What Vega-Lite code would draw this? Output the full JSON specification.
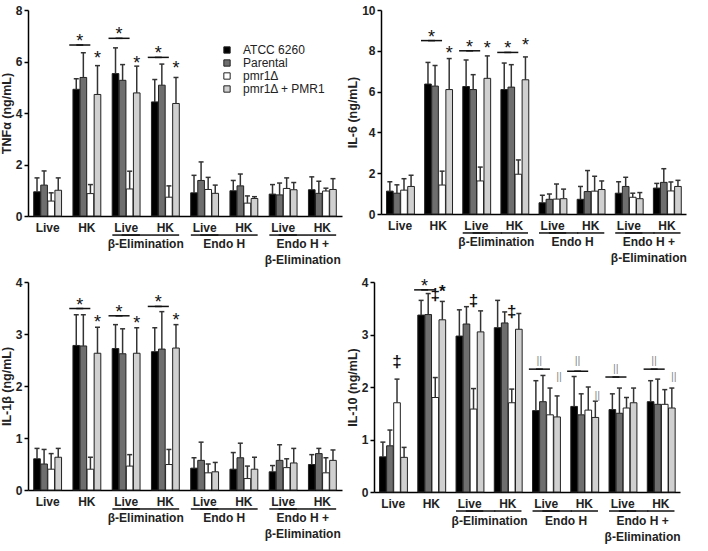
{
  "$schema": "https://vega.github.io/schema/vega-lite/v6.json",
  "padding": {"left": 0, "top": 4, "right": 2, "bottom": 2},
  "config": {
    "view": {"stroke": null},
    "font": "Liberation Sans",
    "axis": {"domainColor": "#000", "tickColor": "#000", "labelFontWeight": "bold", "labelFontSize": 12, "labelColor": "#222", "titleFontWeight": "bold", "titleFontSize": 12.5, "titleColor": "#222", "grid": false, "domainWidth": 1.5, "tickWidth": 1.5, "tickSize": 4}
  },
  "spacing": 9,
  "vconcat": [
    {"spacing": 4, "hconcat": [
      {"width": 314, "height": 206,
       "data": {"values": [
        {"k":"b","cond":"Live","strain":"ATCC 6260","mean":0.94,"top":1.48},
        {"k":"b","cond":"Live","strain":"Parental","mean":1.2,"top":1.75},
        {"k":"b","cond":"Live","strain":"pmr1Δ","mean":0.58,"top":0.9},
        {"k":"b","cond":"Live","strain":"pmr1Δ + PMR1","mean":1.0,"top":1.48},
        {"k":"b","cond":"HK","strain":"ATCC 6260","mean":4.92,"top":5.33},
        {"k":"b","cond":"HK","strain":"Parental","mean":5.38,"top":6.34},
        {"k":"b","cond":"HK","strain":"pmr1Δ","mean":0.87,"top":1.22},
        {"k":"b","cond":"HK","strain":"pmr1Δ + PMR1","mean":4.72,"top":5.84},
        {"k":"b","cond":"Live\u200b","strain":"ATCC 6260","mean":5.53,"top":6.53},
        {"k":"b","cond":"Live\u200b","strain":"Parental","mean":5.27,"top":5.88},
        {"k":"b","cond":"Live\u200b","strain":"pmr1Δ","mean":1.05,"top":1.74},
        {"k":"b","cond":"Live\u200b","strain":"pmr1Δ + PMR1","mean":4.78,"top":5.82},
        {"k":"b","cond":"HK\u200b","strain":"ATCC 6260","mean":4.43,"top":5.3},
        {"k":"b","cond":"HK\u200b","strain":"Parental","mean":5.08,"top":5.9},
        {"k":"b","cond":"HK\u200b","strain":"pmr1Δ","mean":0.73,"top":1.17},
        {"k":"b","cond":"HK\u200b","strain":"pmr1Δ + PMR1","mean":4.37,"top":5.38},
        {"k":"b","cond":"Live\u200b\u200b","strain":"ATCC 6260","mean":0.9,"top":1.58},
        {"k":"b","cond":"Live\u200b\u200b","strain":"Parental","mean":1.38,"top":2.1},
        {"k":"b","cond":"Live\u200b\u200b","strain":"pmr1Δ","mean":1.03,"top":1.5},
        {"k":"b","cond":"Live\u200b\u200b","strain":"pmr1Δ + PMR1","mean":0.88,"top":1.2},
        {"k":"b","cond":"HK\u200b\u200b","strain":"ATCC 6260","mean":0.98,"top":1.38},
        {"k":"b","cond":"HK\u200b\u200b","strain":"Parental","mean":1.17,"top":1.63},
        {"k":"b","cond":"HK\u200b\u200b","strain":"pmr1Δ","mean":0.5,"top":0.78},
        {"k":"b","cond":"HK\u200b\u200b","strain":"pmr1Δ + PMR1","mean":0.68,"top":0.75},
        {"k":"b","cond":"Live\u200b\u200b\u200b","strain":"ATCC 6260","mean":0.85,"top":1.22},
        {"k":"b","cond":"Live\u200b\u200b\u200b","strain":"Parental","mean":0.82,"top":1.28},
        {"k":"b","cond":"Live\u200b\u200b\u200b","strain":"pmr1Δ","mean":1.07,"top":1.48},
        {"k":"b","cond":"Live\u200b\u200b\u200b","strain":"pmr1Δ + PMR1","mean":1.02,"top":1.3},
        {"k":"b","cond":"HK\u200b\u200b\u200b","strain":"ATCC 6260","mean":1.02,"top":1.52},
        {"k":"b","cond":"HK\u200b\u200b\u200b","strain":"Parental","mean":0.88,"top":1.35},
        {"k":"b","cond":"HK\u200b\u200b\u200b","strain":"pmr1Δ","mean":0.97,"top":1.08},
        {"k":"b","cond":"HK\u200b\u200b\u200b","strain":"pmr1Δ + PMR1","mean":1.03,"top":1.45},
        {"k":"l","cond":"HK","strain":"ATCC 6260","y":6.64},{"k":"l","cond":"HK","strain":"Parental","y":6.64},
        {"k":"l","cond":"Live\u200b","strain":"ATCC 6260","y":6.9},{"k":"l","cond":"Live\u200b","strain":"Parental","y":6.9},
        {"k":"l","cond":"HK\u200b","strain":"ATCC 6260","y":6.16},{"k":"l","cond":"HK\u200b","strain":"Parental","y":6.16},
        {"k":"p","cond":"HK","strain":"ATCC 6260","y":6.64,"sym":"*"},{"k":"p","cond":"Live\u200b","strain":"ATCC 6260","y":6.9,"sym":"*"},{"k":"p","cond":"HK\u200b","strain":"ATCC 6260","y":6.16,"sym":"*"},
        {"k":"s","cond":"HK","strain":"pmr1Δ + PMR1","y":6.02,"sym":"*"},
        {"k":"s","cond":"Live\u200b","strain":"pmr1Δ + PMR1","y":5.84,"sym":"*"},
        {"k":"s","cond":"HK\u200b","strain":"pmr1Δ + PMR1","y":5.64,"sym":"*"},
        {"k":"u","cond":"Live\u200b","y":-0.74},{"k":"u","cond":"HK\u200b","y":-0.74},
        {"k":"u","cond":"Live\u200b\u200b","y":-0.74},{"k":"u","cond":"HK\u200b\u200b","y":-0.74},
        {"k":"u","cond":"Live\u200b\u200b\u200b","y":-0.74},{"k":"u","cond":"HK\u200b\u200b\u200b","y":-0.74},
        {"k":"v","cond":"Live\u200b","strain":"pmr1Δ + PMR1","y":-0.74},{"k":"v","cond":"Live\u200b\u200b","strain":"pmr1Δ + PMR1","y":-0.74},{"k":"v","cond":"Live\u200b\u200b\u200b","strain":"pmr1Δ + PMR1","y":-0.74},
        {"k":"g","cond":"Live\u200b","strain":"pmr1Δ + PMR1","y":-0.91,"label":"β-Elimination"},
        {"k":"g","cond":"Live\u200b\u200b","strain":"pmr1Δ + PMR1","y":-0.91,"label":"Endo H"},
        {"k":"g","cond":"Live\u200b\u200b\u200b","strain":"pmr1Δ + PMR1","y":-0.91,"label":"Endo H +"},
        {"k":"g","cond":"Live\u200b\u200b\u200b","strain":"pmr1Δ + PMR1","y":-1.53,"label":"β-Elimination"}
       ]},
       "layer": [
        {"transform": [{"filter": "datum.k === 'b'"}],
         "mark": {"type": "bar", "stroke": "#222", "strokeWidth": 1},
         "encoding": {
           "x": {"field": "cond", "type": "nominal", "scale": {"domain": ["Live","HK","Live\u200b","HK\u200b","Live\u200b\u200b","HK\u200b\u200b","Live\u200b\u200b\u200b","HK\u200b\u200b\u200b"], "paddingInner": 0.29, "paddingOuter": 0.145}, "axis": {"title": null, "labelAngle": 0, "ticks": false, "labelPadding": 6}},
           "xOffset": {"field": "strain", "type": "nominal", "scale": {"domain": ["ATCC 6260","Parental","pmr1Δ","pmr1Δ + PMR1"], "paddingInner": 0.06}},
           "y": {"field": "mean", "type": "quantitative", "scale": {"domain": [0, 8], "nice": false}, "axis": {"title": "TNFα (ng/mL)", "values": [0,2,4,6,8], "format": "d", "labelPadding": 2, "titlePadding": 2}},
           "color": {"field": "strain", "type": "nominal", "scale": {"domain": ["ATCC 6260","Parental","pmr1Δ","pmr1Δ + PMR1"], "range": ["#000000","#6e6e6e","#ffffff","#d0d0d0"]},
             "legend": {"title": null, "orient": "none", "legendX": 193, "legendY": 34, "symbolType": "square", "symbolSize": 40, "symbolStrokeColor": "#222", "symbolStrokeWidth": 1, "labelFontSize": 12, "labelColor": "#222", "labelOffset": 10, "rowPadding": 1, "labelLimit": 200}}
         }},
        {"transform": [{"filter": "datum.k === 'b'"}],
         "mark": {"type": "rule", "color": "#333", "strokeWidth": 1.5},
         "encoding": {"x": {"field": "cond", "type": "nominal"}, "xOffset": {"field": "strain", "type": "nominal"}, "y": {"field": "mean", "type": "quantitative"}, "y2": {"field": "top"}}},
        {"transform": [{"filter": "datum.k === 'b'"}],
         "mark": {"type": "point", "shape": "stroke", "size": 25, "filled": false, "color": "#333", "strokeWidth": 1.5, "opacity": 1},
         "encoding": {"x": {"field": "cond", "type": "nominal"}, "xOffset": {"field": "strain", "type": "nominal"}, "y": {"field": "top", "type": "quantitative"}}},
        {"transform": [{"filter": "datum.k === 'l'"}],
         "mark": {"type": "point", "shape": "stroke", "size": 196, "filled": false, "color": "#111", "strokeWidth": 1.5, "opacity": 1},
         "encoding": {"x": {"field": "cond", "type": "nominal"}, "xOffset": {"field": "strain", "type": "nominal"}, "y": {"field": "y", "type": "quantitative"}}},
        {"transform": [{"filter": "datum.k === 'p'"}],
         "mark": {"type": "text", "fontSize": 18, "baseline": "alphabetic", "dy": 2, "dx": 3.5, "fill": "#111"},
         "encoding": {"x": {"field": "cond", "type": "nominal"}, "xOffset": {"field": "strain", "type": "nominal"}, "y": {"field": "y", "type": "quantitative"}, "text": {"field": "sym"}}},
        {"transform": [{"filter": "datum.k === 's'"}],
         "mark": {"type": "text", "fontSize": 18, "baseline": "alphabetic", "dy": 3, "fill": "#111"},
         "encoding": {"x": {"field": "cond", "type": "nominal"}, "xOffset": {"field": "strain", "type": "nominal"}, "y": {"field": "y", "type": "quantitative"}, "text": {"field": "sym"}}},
        {"transform": [{"filter": "datum.k === 'u'"}],
         "mark": {"type": "point", "shape": "stroke", "size": 760, "filled": false, "color": "#111", "strokeWidth": 1.5, "opacity": 1},
         "encoding": {"x": {"field": "cond", "type": "nominal"}, "y": {"field": "y", "type": "quantitative"}}},
        {"transform": [{"filter": "datum.k === 'v'"}],
         "mark": {"type": "point", "shape": "stroke", "size": 912, "filled": false, "color": "#111", "strokeWidth": 1.5, "opacity": 1},
         "encoding": {"x": {"field": "cond", "type": "nominal"}, "xOffset": {"field": "strain", "type": "nominal"}, "y": {"field": "y", "type": "quantitative"}}},
        {"transform": [{"filter": "datum.k === 'g'"}],
         "mark": {"type": "text", "baseline": "top", "fontWeight": "bold", "fontSize": 12, "fill": "#222", "dx": 9},
         "encoding": {"x": {"field": "cond", "type": "nominal"}, "xOffset": {"field": "strain", "type": "nominal"}, "y": {"field": "y", "type": "quantitative"}, "text": {"field": "label"}}}
       ]},
      {"width": 305, "height": 204,
       "data": {"values": [
        {"k":"b","cond":"Live","strain":"ATCC 6260","mean":1.12,"top":1.58},
        {"k":"b","cond":"Live","strain":"Parental","mean":1.02,"top":1.43},
        {"k":"b","cond":"Live","strain":"pmr1Δ","mean":1.17,"top":1.73},
        {"k":"b","cond":"Live","strain":"pmr1Δ + PMR1","mean":1.35,"top":1.9},
        {"k":"b","cond":"HK","strain":"ATCC 6260","mean":6.37,"top":7.43},
        {"k":"b","cond":"HK","strain":"Parental","mean":6.27,"top":7.28},
        {"k":"b","cond":"HK","strain":"pmr1Δ","mean":1.42,"top":2.1},
        {"k":"b","cond":"HK","strain":"pmr1Δ + PMR1","mean":6.1,"top":7.62},
        {"k":"b","cond":"Live\u200b","strain":"ATCC 6260","mean":6.25,"top":7.55},
        {"k":"b","cond":"Live\u200b","strain":"Parental","mean":6.1,"top":6.83},
        {"k":"b","cond":"Live\u200b","strain":"pmr1Δ","mean":1.62,"top":2.3},
        {"k":"b","cond":"Live\u200b","strain":"pmr1Δ + PMR1","mean":6.65,"top":7.75},
        {"k":"b","cond":"HK\u200b","strain":"ATCC 6260","mean":6.1,"top":7.4},
        {"k":"b","cond":"HK\u200b","strain":"Parental","mean":6.22,"top":7.32},
        {"k":"b","cond":"HK\u200b","strain":"pmr1Δ","mean":1.95,"top":2.65},
        {"k":"b","cond":"HK\u200b","strain":"pmr1Δ + PMR1","mean":6.58,"top":7.7},
        {"k":"b","cond":"Live\u200b\u200b","strain":"ATCC 6260","mean":0.55,"top":0.92},
        {"k":"b","cond":"Live\u200b\u200b","strain":"Parental","mean":0.72,"top":0.98},
        {"k":"b","cond":"Live\u200b\u200b","strain":"pmr1Δ","mean":0.73,"top":1.47},
        {"k":"b","cond":"Live\u200b\u200b","strain":"pmr1Δ + PMR1","mean":0.75,"top":1.22},
        {"k":"b","cond":"HK\u200b\u200b","strain":"ATCC 6260","mean":0.72,"top":1.35},
        {"k":"b","cond":"HK\u200b\u200b","strain":"Parental","mean":1.1,"top":2.13},
        {"k":"b","cond":"HK\u200b\u200b","strain":"pmr1Δ","mean":1.12,"top":1.85},
        {"k":"b","cond":"HK\u200b\u200b","strain":"pmr1Δ + PMR1","mean":1.2,"top":1.62},
        {"k":"b","cond":"Live\u200b\u200b\u200b","strain":"ATCC 6260","mean":1.02,"top":1.58},
        {"k":"b","cond":"Live\u200b\u200b\u200b","strain":"Parental","mean":1.35,"top":1.8},
        {"k":"b","cond":"Live\u200b\u200b\u200b","strain":"pmr1Δ","mean":0.82,"top":1.02},
        {"k":"b","cond":"Live\u200b\u200b\u200b","strain":"pmr1Δ + PMR1","mean":0.75,"top":1.05},
        {"k":"b","cond":"HK\u200b\u200b\u200b","strain":"ATCC 6260","mean":1.27,"top":1.5},
        {"k":"b","cond":"HK\u200b\u200b\u200b","strain":"Parental","mean":1.55,"top":2.22},
        {"k":"b","cond":"HK\u200b\u200b\u200b","strain":"pmr1Δ","mean":1.13,"top":1.57},
        {"k":"b","cond":"HK\u200b\u200b\u200b","strain":"pmr1Δ + PMR1","mean":1.35,"top":1.65},
        {"k":"l","cond":"HK","strain":"ATCC 6260","y":8.5},{"k":"l","cond":"HK","strain":"Parental","y":8.5},
        {"k":"l","cond":"Live\u200b","strain":"ATCC 6260","y":8.0},{"k":"l","cond":"Live\u200b","strain":"Parental","y":8.0},
        {"k":"l","cond":"HK\u200b","strain":"ATCC 6260","y":7.92},{"k":"l","cond":"HK\u200b","strain":"Parental","y":7.92},
        {"k":"p","cond":"HK","strain":"ATCC 6260","y":8.5,"sym":"*"},{"k":"p","cond":"Live\u200b","strain":"ATCC 6260","y":8.0,"sym":"*"},{"k":"p","cond":"HK\u200b","strain":"ATCC 6260","y":7.92,"sym":"*"},
        {"k":"s","cond":"HK","strain":"pmr1Δ + PMR1","y":7.76,"sym":"*"},
        {"k":"s","cond":"Live\u200b","strain":"pmr1Δ + PMR1","y":8.0,"sym":"*"},
        {"k":"s","cond":"HK\u200b","strain":"pmr1Δ + PMR1","y":8.14,"sym":"*"},
        {"k":"u","cond":"Live\u200b","y":-0.93},{"k":"u","cond":"HK\u200b","y":-0.93},
        {"k":"u","cond":"Live\u200b\u200b","y":-0.93},{"k":"u","cond":"HK\u200b\u200b","y":-0.93},
        {"k":"u","cond":"Live\u200b\u200b\u200b","y":-0.93},{"k":"u","cond":"HK\u200b\u200b\u200b","y":-0.93},
        {"k":"v","cond":"Live\u200b","strain":"pmr1Δ + PMR1","y":-0.93},{"k":"v","cond":"Live\u200b\u200b","strain":"pmr1Δ + PMR1","y":-0.93},{"k":"v","cond":"Live\u200b\u200b\u200b","strain":"pmr1Δ + PMR1","y":-0.93},
        {"k":"g","cond":"Live\u200b","strain":"pmr1Δ + PMR1","y":-1.15,"label":"β-Elimination"},
        {"k":"g","cond":"Live\u200b\u200b","strain":"pmr1Δ + PMR1","y":-1.15,"label":"Endo H"},
        {"k":"g","cond":"Live\u200b\u200b\u200b","strain":"pmr1Δ + PMR1","y":-1.15,"label":"Endo H +"},
        {"k":"g","cond":"Live\u200b\u200b\u200b","strain":"pmr1Δ + PMR1","y":-1.93,"label":"β-Elimination"}
       ]},
       "layer": [
        {"transform": [{"filter": "datum.k === 'b'"}],
         "mark": {"type": "bar", "stroke": "#222", "strokeWidth": 1},
         "encoding": {
           "x": {"field": "cond", "type": "nominal", "scale": {"domain": ["Live","HK","Live\u200b","HK\u200b","Live\u200b\u200b","HK\u200b\u200b","Live\u200b\u200b\u200b","HK\u200b\u200b\u200b"], "paddingInner": 0.29, "paddingOuter": 0.145}, "axis": {"title": null, "labelAngle": 0, "ticks": false, "labelPadding": 6}},
           "xOffset": {"field": "strain", "type": "nominal", "scale": {"domain": ["ATCC 6260","Parental","pmr1Δ","pmr1Δ + PMR1"], "paddingInner": 0.06}},
           "y": {"field": "mean", "type": "quantitative", "scale": {"domain": [0, 10], "nice": false}, "axis": {"title": "IL-6 (ng/mL)", "values": [0,2,4,6,8,10], "format": "d", "labelPadding": 2, "titlePadding": 2}},
           "color": {"field": "strain", "type": "nominal", "scale": {"domain": ["ATCC 6260","Parental","pmr1Δ","pmr1Δ + PMR1"], "range": ["#000000","#6e6e6e","#ffffff","#d0d0d0"]},
             "legend": {"title": null, "orient": "none", "legendX": 200, "legendY": 34, "symbolType": "square", "symbolSize": 40, "symbolStrokeColor": "#222", "symbolStrokeWidth": 1, "labelFontSize": 12, "labelColor": "#222", "labelOffset": 12, "rowPadding": 1.5, "labelLimit": 200}}
         }},
        {"transform": [{"filter": "datum.k === 'b'"}],
         "mark": {"type": "rule", "color": "#333", "strokeWidth": 1.5},
         "encoding": {"x": {"field": "cond", "type": "nominal"}, "xOffset": {"field": "strain", "type": "nominal"}, "y": {"field": "mean", "type": "quantitative"}, "y2": {"field": "top"}}},
        {"transform": [{"filter": "datum.k === 'b'"}],
         "mark": {"type": "point", "shape": "stroke", "size": 25, "filled": false, "color": "#333", "strokeWidth": 1.5, "opacity": 1},
         "encoding": {"x": {"field": "cond", "type": "nominal"}, "xOffset": {"field": "strain", "type": "nominal"}, "y": {"field": "top", "type": "quantitative"}}},
        {"transform": [{"filter": "datum.k === 'l'"}],
         "mark": {"type": "point", "shape": "stroke", "size": 196, "filled": false, "color": "#111", "strokeWidth": 1.5, "opacity": 1},
         "encoding": {"x": {"field": "cond", "type": "nominal"}, "xOffset": {"field": "strain", "type": "nominal"}, "y": {"field": "y", "type": "quantitative"}}},
        {"transform": [{"filter": "datum.k === 'p'"}],
         "mark": {"type": "text", "fontSize": 18, "baseline": "alphabetic", "dy": 2, "dx": 3.5, "fill": "#111"},
         "encoding": {"x": {"field": "cond", "type": "nominal"}, "xOffset": {"field": "strain", "type": "nominal"}, "y": {"field": "y", "type": "quantitative"}, "text": {"field": "sym"}}},
        {"transform": [{"filter": "datum.k === 's'"}],
         "mark": {"type": "text", "fontSize": 18, "baseline": "alphabetic", "dy": 3, "fill": "#111"},
         "encoding": {"x": {"field": "cond", "type": "nominal"}, "xOffset": {"field": "strain", "type": "nominal"}, "y": {"field": "y", "type": "quantitative"}, "text": {"field": "sym"}}},
        {"transform": [{"filter": "datum.k === 'u'"}],
         "mark": {"type": "point", "shape": "stroke", "size": 740, "filled": false, "color": "#111", "strokeWidth": 1.5, "opacity": 1},
         "encoding": {"x": {"field": "cond", "type": "nominal"}, "y": {"field": "y", "type": "quantitative"}}},
        {"transform": [{"filter": "datum.k === 'v'"}],
         "mark": {"type": "point", "shape": "stroke", "size": 870, "filled": false, "color": "#111", "strokeWidth": 1.5, "opacity": 1},
         "encoding": {"x": {"field": "cond", "type": "nominal"}, "xOffset": {"field": "strain", "type": "nominal"}, "y": {"field": "y", "type": "quantitative"}}},
        {"transform": [{"filter": "datum.k === 'g'"}],
         "mark": {"type": "text", "baseline": "top", "fontWeight": "bold", "fontSize": 12, "fill": "#222", "dx": 9},
         "encoding": {"x": {"field": "cond", "type": "nominal"}, "xOffset": {"field": "strain", "type": "nominal"}, "y": {"field": "y", "type": "quantitative"}, "text": {"field": "label"}}}
       ]}
    ]},
    {"spacing": 4, "hconcat": [
      {"width": 314, "height": 208,
       "data": {"values": [
        {"k":"b","cond":"Live","strain":"ATCC 6260","mean":0.6,"top":0.8},
        {"k":"b","cond":"Live","strain":"Parental","mean":0.5,"top":0.78},
        {"k":"b","cond":"Live","strain":"pmr1Δ","mean":0.4,"top":0.7},
        {"k":"b","cond":"Live","strain":"pmr1Δ + PMR1","mean":0.63,"top":0.8},
        {"k":"b","cond":"HK","strain":"ATCC 6260","mean":2.78,"top":3.37},
        {"k":"b","cond":"HK","strain":"Parental","mean":2.77,"top":3.37},
        {"k":"b","cond":"HK","strain":"pmr1Δ","mean":0.4,"top":0.63},
        {"k":"b","cond":"HK","strain":"pmr1Δ + PMR1","mean":2.63,"top":3.13},
        {"k":"b","cond":"Live\u200b","strain":"ATCC 6260","mean":2.72,"top":3.18},
        {"k":"b","cond":"Live\u200b","strain":"Parental","mean":2.62,"top":3.1},
        {"k":"b","cond":"Live\u200b","strain":"pmr1Δ","mean":0.46,"top":0.68},
        {"k":"b","cond":"Live\u200b","strain":"pmr1Δ + PMR1","mean":2.63,"top":3.12},
        {"k":"b","cond":"HK\u200b","strain":"ATCC 6260","mean":2.66,"top":3.12},
        {"k":"b","cond":"HK\u200b","strain":"Parental","mean":2.71,"top":3.43},
        {"k":"b","cond":"HK\u200b","strain":"pmr1Δ","mean":0.49,"top":0.78},
        {"k":"b","cond":"HK\u200b","strain":"pmr1Δ + PMR1","mean":2.73,"top":3.18},
        {"k":"b","cond":"Live\u200b\u200b","strain":"ATCC 6260","mean":0.42,"top":0.62},
        {"k":"b","cond":"Live\u200b\u200b","strain":"Parental","mean":0.57,"top":0.92},
        {"k":"b","cond":"Live\u200b\u200b","strain":"pmr1Δ","mean":0.33,"top":0.5},
        {"k":"b","cond":"Live\u200b\u200b","strain":"pmr1Δ + PMR1","mean":0.35,"top":0.53},
        {"k":"b","cond":"HK\u200b\u200b","strain":"ATCC 6260","mean":0.4,"top":0.72},
        {"k":"b","cond":"HK\u200b\u200b","strain":"Parental","mean":0.62,"top":0.9},
        {"k":"b","cond":"HK\u200b\u200b","strain":"pmr1Δ","mean":0.22,"top":0.46},
        {"k":"b","cond":"HK\u200b\u200b","strain":"pmr1Δ + PMR1","mean":0.4,"top":0.63},
        {"k":"b","cond":"Live\u200b\u200b\u200b","strain":"ATCC 6260","mean":0.35,"top":0.47},
        {"k":"b","cond":"Live\u200b\u200b\u200b","strain":"Parental","mean":0.57,"top":0.87},
        {"k":"b","cond":"Live\u200b\u200b\u200b","strain":"pmr1Δ","mean":0.43,"top":0.6},
        {"k":"b","cond":"Live\u200b\u200b\u200b","strain":"pmr1Δ + PMR1","mean":0.52,"top":0.8},
        {"k":"b","cond":"HK\u200b\u200b\u200b","strain":"ATCC 6260","mean":0.49,"top":0.68},
        {"k":"b","cond":"HK\u200b\u200b\u200b","strain":"Parental","mean":0.7,"top":0.8},
        {"k":"b","cond":"HK\u200b\u200b\u200b","strain":"pmr1Δ","mean":0.33,"top":0.62},
        {"k":"b","cond":"HK\u200b\u200b\u200b","strain":"pmr1Δ + PMR1","mean":0.57,"top":0.77},
        {"k":"l","cond":"HK","strain":"ATCC 6260","y":3.49},{"k":"l","cond":"HK","strain":"Parental","y":3.49},
        {"k":"l","cond":"Live\u200b","strain":"ATCC 6260","y":3.35},{"k":"l","cond":"Live\u200b","strain":"Parental","y":3.35},
        {"k":"l","cond":"HK\u200b","strain":"ATCC 6260","y":3.53},{"k":"l","cond":"HK\u200b","strain":"Parental","y":3.53},
        {"k":"p","cond":"HK","strain":"ATCC 6260","y":3.49,"sym":"*"},{"k":"p","cond":"Live\u200b","strain":"ATCC 6260","y":3.35,"sym":"*"},{"k":"p","cond":"HK\u200b","strain":"ATCC 6260","y":3.53,"sym":"*"},
        {"k":"s","cond":"HK","strain":"pmr1Δ + PMR1","y":3.17,"sym":"*"},
        {"k":"s","cond":"Live\u200b","strain":"pmr1Δ + PMR1","y":3.16,"sym":"*"},
        {"k":"s","cond":"HK\u200b","strain":"pmr1Δ + PMR1","y":3.22,"sym":"*"},
        {"k":"u","cond":"Live\u200b","y":-0.365},{"k":"u","cond":"HK\u200b","y":-0.365},
        {"k":"u","cond":"Live\u200b\u200b","y":-0.365},{"k":"u","cond":"HK\u200b\u200b","y":-0.365},
        {"k":"u","cond":"Live\u200b\u200b\u200b","y":-0.365},{"k":"u","cond":"HK\u200b\u200b\u200b","y":-0.365},
        {"k":"v","cond":"Live\u200b","strain":"pmr1Δ + PMR1","y":-0.365},{"k":"v","cond":"Live\u200b\u200b","strain":"pmr1Δ + PMR1","y":-0.365},{"k":"v","cond":"Live\u200b\u200b\u200b","strain":"pmr1Δ + PMR1","y":-0.365},
        {"k":"g","cond":"Live\u200b","strain":"pmr1Δ + PMR1","y":-0.45,"label":"β-Elimination"},
        {"k":"g","cond":"Live\u200b\u200b","strain":"pmr1Δ + PMR1","y":-0.45,"label":"Endo H"},
        {"k":"g","cond":"Live\u200b\u200b\u200b","strain":"pmr1Δ + PMR1","y":-0.45,"label":"Endo H +"},
        {"k":"g","cond":"Live\u200b\u200b\u200b","strain":"pmr1Δ + PMR1","y":-0.758,"label":"β-Elimination"}
       ]},
       "layer": [
        {"transform": [{"filter": "datum.k === 'b'"}],
         "mark": {"type": "bar", "stroke": "#222", "strokeWidth": 1},
         "encoding": {
           "x": {"field": "cond", "type": "nominal", "scale": {"domain": ["Live","HK","Live\u200b","HK\u200b","Live\u200b\u200b","HK\u200b\u200b","Live\u200b\u200b\u200b","HK\u200b\u200b\u200b"], "paddingInner": 0.29, "paddingOuter": 0.145}, "axis": {"title": null, "labelAngle": 0, "ticks": false, "labelPadding": 6}},
           "xOffset": {"field": "strain", "type": "nominal", "scale": {"domain": ["ATCC 6260","Parental","pmr1Δ","pmr1Δ + PMR1"], "paddingInner": 0.06}},
           "y": {"field": "mean", "type": "quantitative", "scale": {"domain": [0, 4], "nice": false}, "axis": {"title": "IL-1β (ng/mL)", "values": [0,1,2,3,4], "format": "d", "labelPadding": 2, "titlePadding": 2}},
           "color": {"field": "strain", "type": "nominal", "scale": {"domain": ["ATCC 6260","Parental","pmr1Δ","pmr1Δ + PMR1"], "range": ["#000000","#6e6e6e","#ffffff","#d0d0d0"]},
             "legend": {"title": null, "orient": "none", "legendX": 194, "legendY": 28, "symbolType": "square", "symbolSize": 40, "symbolStrokeColor": "#222", "symbolStrokeWidth": 1, "labelFontSize": 12, "labelColor": "#222", "labelOffset": 12, "rowPadding": 0.5, "labelLimit": 200}}
         }},
        {"transform": [{"filter": "datum.k === 'b'"}],
         "mark": {"type": "rule", "color": "#333", "strokeWidth": 1.5},
         "encoding": {"x": {"field": "cond", "type": "nominal"}, "xOffset": {"field": "strain", "type": "nominal"}, "y": {"field": "mean", "type": "quantitative"}, "y2": {"field": "top"}}},
        {"transform": [{"filter": "datum.k === 'b'"}],
         "mark": {"type": "point", "shape": "stroke", "size": 25, "filled": false, "color": "#333", "strokeWidth": 1.5, "opacity": 1},
         "encoding": {"x": {"field": "cond", "type": "nominal"}, "xOffset": {"field": "strain", "type": "nominal"}, "y": {"field": "top", "type": "quantitative"}}},
        {"transform": [{"filter": "datum.k === 'l'"}],
         "mark": {"type": "point", "shape": "stroke", "size": 196, "filled": false, "color": "#111", "strokeWidth": 1.5, "opacity": 1},
         "encoding": {"x": {"field": "cond", "type": "nominal"}, "xOffset": {"field": "strain", "type": "nominal"}, "y": {"field": "y", "type": "quantitative"}}},
        {"transform": [{"filter": "datum.k === 'p'"}],
         "mark": {"type": "text", "fontSize": 18, "baseline": "alphabetic", "dy": 2, "dx": 3.5, "fill": "#111"},
         "encoding": {"x": {"field": "cond", "type": "nominal"}, "xOffset": {"field": "strain", "type": "nominal"}, "y": {"field": "y", "type": "quantitative"}, "text": {"field": "sym"}}},
        {"transform": [{"filter": "datum.k === 's'"}],
         "mark": {"type": "text", "fontSize": 18, "baseline": "alphabetic", "dy": 3, "fill": "#111"},
         "encoding": {"x": {"field": "cond", "type": "nominal"}, "xOffset": {"field": "strain", "type": "nominal"}, "y": {"field": "y", "type": "quantitative"}, "text": {"field": "sym"}}},
        {"transform": [{"filter": "datum.k === 'u'"}],
         "mark": {"type": "point", "shape": "stroke", "size": 760, "filled": false, "color": "#111", "strokeWidth": 1.5, "opacity": 1},
         "encoding": {"x": {"field": "cond", "type": "nominal"}, "y": {"field": "y", "type": "quantitative"}}},
        {"transform": [{"filter": "datum.k === 'v'"}],
         "mark": {"type": "point", "shape": "stroke", "size": 912, "filled": false, "color": "#111", "strokeWidth": 1.5, "opacity": 1},
         "encoding": {"x": {"field": "cond", "type": "nominal"}, "xOffset": {"field": "strain", "type": "nominal"}, "y": {"field": "y", "type": "quantitative"}}},
        {"transform": [{"filter": "datum.k === 'g'"}],
         "mark": {"type": "text", "baseline": "top", "fontWeight": "bold", "fontSize": 12, "fill": "#222", "dx": 9},
         "encoding": {"x": {"field": "cond", "type": "nominal"}, "xOffset": {"field": "strain", "type": "nominal"}, "y": {"field": "y", "type": "quantitative"}, "text": {"field": "label"}}}
       ]},
      {"width": 306, "height": 210,
       "data": {"values": [
        {"k":"b","cond":"Live","strain":"ATCC 6260","mean":0.67,"top":0.95},
        {"k":"b","cond":"Live","strain":"Parental","mean":0.88,"top":1.18},
        {"k":"b","cond":"Live","strain":"pmr1Δ","mean":1.7,"top":2.15},
        {"k":"b","cond":"Live","strain":"pmr1Δ + PMR1","mean":0.66,"top":0.85},
        {"k":"b","cond":"HK","strain":"ATCC 6260","mean":3.37,"top":3.65},
        {"k":"b","cond":"HK","strain":"Parental","mean":3.38,"top":3.78},
        {"k":"b","cond":"HK","strain":"pmr1Δ","mean":1.8,"top":2.18},
        {"k":"b","cond":"HK","strain":"pmr1Δ + PMR1","mean":3.28,"top":3.63},
        {"k":"b","cond":"Live\u200b","strain":"ATCC 6260","mean":2.97,"top":3.47},
        {"k":"b","cond":"Live\u200b","strain":"Parental","mean":3.2,"top":3.53},
        {"k":"b","cond":"Live\u200b","strain":"pmr1Δ","mean":1.58,"top":1.97},
        {"k":"b","cond":"Live\u200b","strain":"pmr1Δ + PMR1","mean":3.05,"top":3.45},
        {"k":"b","cond":"HK\u200b","strain":"ATCC 6260","mean":3.13,"top":3.65},
        {"k":"b","cond":"HK\u200b","strain":"Parental","mean":3.22,"top":3.43},
        {"k":"b","cond":"HK\u200b","strain":"pmr1Δ","mean":1.7,"top":1.96},
        {"k":"b","cond":"HK\u200b","strain":"pmr1Δ + PMR1","mean":3.1,"top":3.4},
        {"k":"b","cond":"Live\u200b\u200b","strain":"ATCC 6260","mean":1.55,"top":2.12},
        {"k":"b","cond":"Live\u200b\u200b","strain":"Parental","mean":1.72,"top":2.22},
        {"k":"b","cond":"Live\u200b\u200b","strain":"pmr1Δ","mean":1.47,"top":1.98},
        {"k":"b","cond":"Live\u200b\u200b","strain":"pmr1Δ + PMR1","mean":1.43,"top":1.83},
        {"k":"b","cond":"HK\u200b\u200b","strain":"ATCC 6260","mean":1.63,"top":2.2},
        {"k":"b","cond":"HK\u200b\u200b","strain":"Parental","mean":1.47,"top":1.87},
        {"k":"b","cond":"HK\u200b\u200b","strain":"pmr1Δ","mean":1.56,"top":2.0},
        {"k":"b","cond":"HK\u200b\u200b","strain":"pmr1Δ + PMR1","mean":1.42,"top":1.73},
        {"k":"b","cond":"Live\u200b\u200b\u200b","strain":"ATCC 6260","mean":1.57,"top":1.87},
        {"k":"b","cond":"Live\u200b\u200b\u200b","strain":"Parental","mean":1.5,"top":1.98},
        {"k":"b","cond":"Live\u200b\u200b\u200b","strain":"pmr1Δ","mean":1.6,"top":1.8},
        {"k":"b","cond":"Live\u200b\u200b\u200b","strain":"pmr1Δ + PMR1","mean":1.7,"top":1.98},
        {"k":"b","cond":"HK\u200b\u200b\u200b","strain":"ATCC 6260","mean":1.72,"top":2.12},
        {"k":"b","cond":"HK\u200b\u200b\u200b","strain":"Parental","mean":1.67,"top":2.15},
        {"k":"b","cond":"HK\u200b\u200b\u200b","strain":"pmr1Δ","mean":1.67,"top":1.95},
        {"k":"b","cond":"HK\u200b\u200b\u200b","strain":"pmr1Δ + PMR1","mean":1.6,"top":1.98},
        {"k":"l","cond":"HK","strain":"ATCC 6260","y":3.85},{"k":"l","cond":"HK","strain":"Parental","y":3.85},
        {"k":"l","cond":"Live\u200b\u200b","strain":"ATCC 6260","y":2.34},{"k":"l","cond":"Live\u200b\u200b","strain":"Parental","y":2.34},
        {"k":"l","cond":"HK\u200b\u200b","strain":"ATCC 6260","y":2.3},{"k":"l","cond":"HK\u200b\u200b","strain":"Parental","y":2.3},
        {"k":"l","cond":"Live\u200b\u200b\u200b","strain":"ATCC 6260","y":2.19},{"k":"l","cond":"Live\u200b\u200b\u200b","strain":"Parental","y":2.19},
        {"k":"l","cond":"HK\u200b\u200b\u200b","strain":"ATCC 6260","y":2.34},{"k":"l","cond":"HK\u200b\u200b\u200b","strain":"Parental","y":2.34},
        {"k":"p","cond":"HK","strain":"ATCC 6260","y":3.85,"sym":"*"},
        {"k":"pq","cond":"Live\u200b\u200b","strain":"ATCC 6260","y":2.43,"sym":"||"},
        {"k":"pq","cond":"HK\u200b\u200b","strain":"ATCC 6260","y":2.43,"sym":"||"},
        {"k":"pq","cond":"Live\u200b\u200b\u200b","strain":"ATCC 6260","y":2.28,"sym":"||"},
        {"k":"pq","cond":"HK\u200b\u200b\u200b","strain":"ATCC 6260","y":2.43,"sym":"||"},
        {"k":"s","cond":"Live","strain":"pmr1Δ","y":2.41,"sym":"‡"},
        {"k":"s","cond":"HK","strain":"pmr1Δ","y":3.7,"sym":"‡"},
        {"k":"s","cond":"HK","strain":"pmr1Δ + PMR1","y":3.76,"sym":"*"},
        {"k":"s","cond":"Live\u200b","strain":"pmr1Δ","y":3.58,"sym":"‡"},
        {"k":"s","cond":"HK\u200b","strain":"pmr1Δ","y":3.37,"sym":"‡"},
        {"k":"sq","cond":"Live\u200b\u200b","strain":"pmr1Δ + PMR1","y":2.14,"sym":"||"},
        {"k":"sq","cond":"HK\u200b\u200b","strain":"pmr1Δ + PMR1","y":1.78,"sym":"||"},
        {"k":"sq","cond":"HK\u200b\u200b\u200b","strain":"pmr1Δ + PMR1","y":2.13,"sym":"||"},
        {"k":"u","cond":"Live\u200b","y":-0.362},{"k":"u","cond":"HK\u200b","y":-0.362},
        {"k":"u","cond":"Live\u200b\u200b","y":-0.362},{"k":"u","cond":"HK\u200b\u200b","y":-0.362},
        {"k":"u","cond":"Live\u200b\u200b\u200b","y":-0.362},{"k":"u","cond":"HK\u200b\u200b\u200b","y":-0.362},
        {"k":"v","cond":"Live\u200b","strain":"pmr1Δ + PMR1","y":-0.362},{"k":"v","cond":"Live\u200b\u200b","strain":"pmr1Δ + PMR1","y":-0.362},{"k":"v","cond":"Live\u200b\u200b\u200b","strain":"pmr1Δ + PMR1","y":-0.362},
        {"k":"g","cond":"Live\u200b","strain":"pmr1Δ + PMR1","y":-0.448,"label":"β-Elimination"},
        {"k":"g","cond":"Live\u200b\u200b","strain":"pmr1Δ + PMR1","y":-0.448,"label":"Endo H"},
        {"k":"g","cond":"Live\u200b\u200b\u200b","strain":"pmr1Δ + PMR1","y":-0.448,"label":"Endo H +"},
        {"k":"g","cond":"Live\u200b\u200b\u200b","strain":"pmr1Δ + PMR1","y":-0.753,"label":"β-Elimination"}
       ]},
       "layer": [
        {"transform": [{"filter": "datum.k === 'b'"}],
         "mark": {"type": "bar", "stroke": "#222", "strokeWidth": 1},
         "encoding": {
           "x": {"field": "cond", "type": "nominal", "scale": {"domain": ["Live","HK","Live\u200b","HK\u200b","Live\u200b\u200b","HK\u200b\u200b","Live\u200b\u200b\u200b","HK\u200b\u200b\u200b"], "paddingInner": 0.29, "paddingOuter": 0.145}, "axis": {"title": null, "labelAngle": 0, "ticks": false, "labelPadding": 6}},
           "xOffset": {"field": "strain", "type": "nominal", "scale": {"domain": ["ATCC 6260","Parental","pmr1Δ","pmr1Δ + PMR1"], "paddingInner": 0.06}},
           "y": {"field": "mean", "type": "quantitative", "scale": {"domain": [0, 4], "nice": false}, "axis": {"title": "IL-10 (ng/mL)", "values": [0,1,2,3,4], "format": "d", "labelPadding": 2, "titlePadding": 2}},
           "color": {"field": "strain", "type": "nominal", "scale": {"domain": ["ATCC 6260","Parental","pmr1Δ","pmr1Δ + PMR1"], "range": ["#000000","#6e6e6e","#ffffff","#d0d0d0"]},
             "legend": {"title": null, "orient": "none", "legendX": 198, "legendY": 12, "symbolType": "square", "symbolSize": 40, "symbolStrokeColor": "#222", "symbolStrokeWidth": 1, "labelFontSize": 12, "labelColor": "#222", "labelOffset": 7, "rowPadding": 2, "labelLimit": 200}}
         }},
        {"transform": [{"filter": "datum.k === 'b'"}],
         "mark": {"type": "rule", "color": "#333", "strokeWidth": 1.5},
         "encoding": {"x": {"field": "cond", "type": "nominal"}, "xOffset": {"field": "strain", "type": "nominal"}, "y": {"field": "mean", "type": "quantitative"}, "y2": {"field": "top"}}},
        {"transform": [{"filter": "datum.k === 'b'"}],
         "mark": {"type": "point", "shape": "stroke", "size": 25, "filled": false, "color": "#333", "strokeWidth": 1.5, "opacity": 1},
         "encoding": {"x": {"field": "cond", "type": "nominal"}, "xOffset": {"field": "strain", "type": "nominal"}, "y": {"field": "top", "type": "quantitative"}}},
        {"transform": [{"filter": "datum.k === 'l'"}],
         "mark": {"type": "point", "shape": "stroke", "size": 196, "filled": false, "color": "#111", "strokeWidth": 1.5, "opacity": 1},
         "encoding": {"x": {"field": "cond", "type": "nominal"}, "xOffset": {"field": "strain", "type": "nominal"}, "y": {"field": "y", "type": "quantitative"}}},
        {"transform": [{"filter": "datum.k === 'p'"}],
         "mark": {"type": "text", "fontSize": 18, "baseline": "alphabetic", "dy": 2, "dx": 3.5, "fill": "#111"},
         "encoding": {"x": {"field": "cond", "type": "nominal"}, "xOffset": {"field": "strain", "type": "nominal"}, "y": {"field": "y", "type": "quantitative"}, "text": {"field": "sym"}}},
        {"transform": [{"filter": "datum.k === 'pq'"}],
         "mark": {"type": "text", "fontSize": 11, "baseline": "alphabetic", "dx": 3.5, "fill": "#8a8a8a", "letterSpacing": -1},
         "encoding": {"x": {"field": "cond", "type": "nominal"}, "xOffset": {"field": "strain", "type": "nominal"}, "y": {"field": "y", "type": "quantitative"}, "text": {"field": "sym"}}},
        {"transform": [{"filter": "datum.k === 's'"}],
         "mark": {"type": "text", "fontSize": 17, "fontWeight": "bold", "baseline": "alphabetic", "dy": 2, "fill": "#111"},
         "encoding": {"x": {"field": "cond", "type": "nominal"}, "xOffset": {"field": "strain", "type": "nominal"}, "y": {"field": "y", "type": "quantitative"}, "text": {"field": "sym"}}},
        {"transform": [{"filter": "datum.k === 'sq'"}],
         "mark": {"type": "text", "fontSize": 11, "baseline": "alphabetic", "dx": 2, "fill": "#8a8a8a", "letterSpacing": -1},
         "encoding": {"x": {"field": "cond", "type": "nominal"}, "xOffset": {"field": "strain", "type": "nominal"}, "y": {"field": "y", "type": "quantitative"}, "text": {"field": "sym"}}},
        {"transform": [{"filter": "datum.k === 'u'"}],
         "mark": {"type": "point", "shape": "stroke", "size": 740, "filled": false, "color": "#111", "strokeWidth": 1.5, "opacity": 1},
         "encoding": {"x": {"field": "cond", "type": "nominal"}, "y": {"field": "y", "type": "quantitative"}}},
        {"transform": [{"filter": "datum.k === 'v'"}],
         "mark": {"type": "point", "shape": "stroke", "size": 870, "filled": false, "color": "#111", "strokeWidth": 1.5, "opacity": 1},
         "encoding": {"x": {"field": "cond", "type": "nominal"}, "xOffset": {"field": "strain", "type": "nominal"}, "y": {"field": "y", "type": "quantitative"}}},
        {"transform": [{"filter": "datum.k === 'g'"}],
         "mark": {"type": "text", "baseline": "top", "fontWeight": "bold", "fontSize": 12, "fill": "#222", "dx": 9},
         "encoding": {"x": {"field": "cond", "type": "nominal"}, "xOffset": {"field": "strain", "type": "nominal"}, "y": {"field": "y", "type": "quantitative"}, "text": {"field": "label"}}}
       ]}
    ]}
  ]
}
